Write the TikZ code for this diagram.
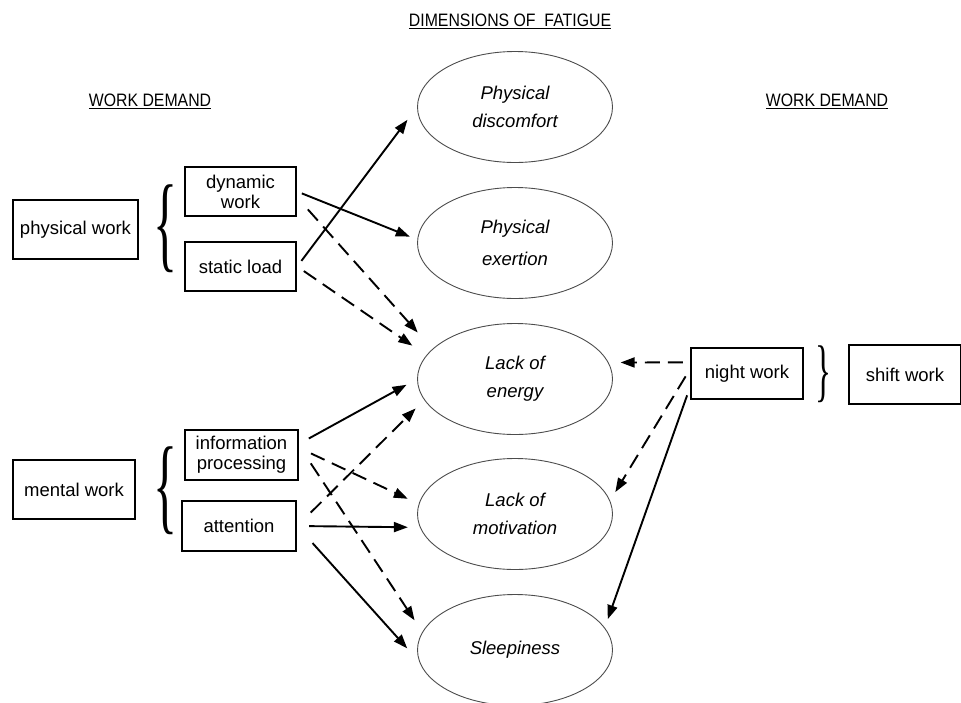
\documentclass[tikz,border=0pt]{standalone}
\usepackage{fontspec}
\setmainfont{Liberation Sans}
\newfontfamily\headfont[FakeStretch=0.88]{Liberation Sans}
\newfontfamily\bracefont{Liberation Serif}
\usetikzlibrary{shapes.geometric}
\usetikzlibrary{arrows.meta}

\begin{document}
\begin{tikzpicture}[x=1pt, y=-1pt,
    demand/.style={draw, line width=2.4pt, rectangle, inner sep=0pt, align=center, font=\fontsize{18.5}{20}\selectfont},
    dimension/.style={draw=black!70, line width=0.9pt, ellipse, minimum width=195pt, minimum height=111pt, inner sep=0pt, align=center, font=\fontsize{18.5}{28}\selectfont\itshape},
    heading/.style={inner sep=0pt, font=\headfont\fontsize{18}{18}\selectfont},
    grouping/.style={inner sep=0pt, font=\bracefont\fontsize{60}{60}\selectfont},
    effect/.style={line width=1.9pt, -{Triangle[length=14pt,width=10pt]}},
    weak/.style={effect, dash pattern=on 15pt off 8pt},
  ]
    \useasboundingbox (0,0) rectangle (961,702);

    % headings
    \node[heading] (title) at (510,21) {\underline{DIMENSIONS OF\ \ FATIGUE}};
    \node[heading] (leftdemand) at (150,101) {\underline{WORK DEMAND}};
    \node[heading] (rightdemand) at (827,101) {\underline{WORK DEMAND}};

    % work demand, left
    \node[demand, minimum width=125pt, minimum height=59pt] (phys) at (75.5,229.5) {physical work};
    \node[grouping] (pbrace) at (165,229) {\resizebox*{24pt}{88pt}{\{}};
    \node[demand, minimum width=111pt, minimum height=49pt] (dyn) at (240.5,191.5) {dynamic\\work};
    \node[demand, minimum width=111pt, minimum height=49pt] (stat) at (240.5,266.5) {static load};

    \node[demand, minimum width=122pt, minimum height=59pt] (ment) at (74,489.5) {mental work};
    \node[grouping] (mbrace) at (165,491) {\resizebox*{24pt}{88pt}{\{}};
    \node[demand, minimum width=113pt, minimum height=50pt] (info) at (241.5,455) {information\\processing};
    \node[demand, minimum width=114pt, minimum height=50pt] (att) at (239,526) {attention};

    % work demand, right
    \node[demand, minimum width=112pt, minimum height=51pt] (night) at (747,373.5) {night work};
    \node[grouping] (sbrace) at (823.5,374.5) {\resizebox*{16pt}{57pt}{\}}};
    \node[demand, minimum width=112pt, minimum height=59pt] (shift) at (905,374.5) {shift work};

    % dimensions of fatigue
    \node[dimension] (disc) at (515,107) {Physical\\discomfort};
    \node[dimension] (exer) at (515,243) {Physical\\[4pt]exertion};
    \node[dimension] (energy) at (515,379) {Lack of\\energy};
    \node[dimension] (motiv) at (515,514) {Lack of\\motivation};
    \node[dimension] (sleep) at (515,650) {Sleepiness};

    % links
    \draw[effect, shorten <=5pt, shorten >=8pt] (dyn.east) -- (exer.178);
    \draw[effect, shorten <=7pt, shorten >=16pt] (stat.east) -- (disc.west);
    \draw[weak, shorten <=16pt, shorten >=22pt] (dyn.-6) -- (energy.160);
    \draw[weak, shorten <=8pt, shorten >=17pt] (stat.east) -- (energy.165);
    \draw[effect, shorten <=11pt, shorten >=12pt] (info.11) -- (energy.west);
    \draw[weak, shorten <=19pt, shorten >=12pt] (att.east) -- (energy.193);
    \draw[weak, shorten <=13pt, shorten >=12pt] (info.7) -- (motiv.174);
    \draw[weak, shorten <=21pt, shorten >=14pt] (info.9) -- (sleep.169);
    \draw[effect, shorten <=12pt, shorten >=12pt] (att.east) -- (motiv.188);
    \draw[effect, shorten <=23pt, shorten >=18pt] (att.east) -- (sleep.187);
    \draw[weak, shorten <=7pt, shorten >=12pt] (night.169) -- (energy.10);
    \draw[weak, shorten <=8pt, shorten >=10pt] (night.176) -- (motiv.8);
    \draw[effect, shorten <=8pt, shorten >=9pt] (night.194) -- (sleep.14);
\end{tikzpicture}
\end{document}
